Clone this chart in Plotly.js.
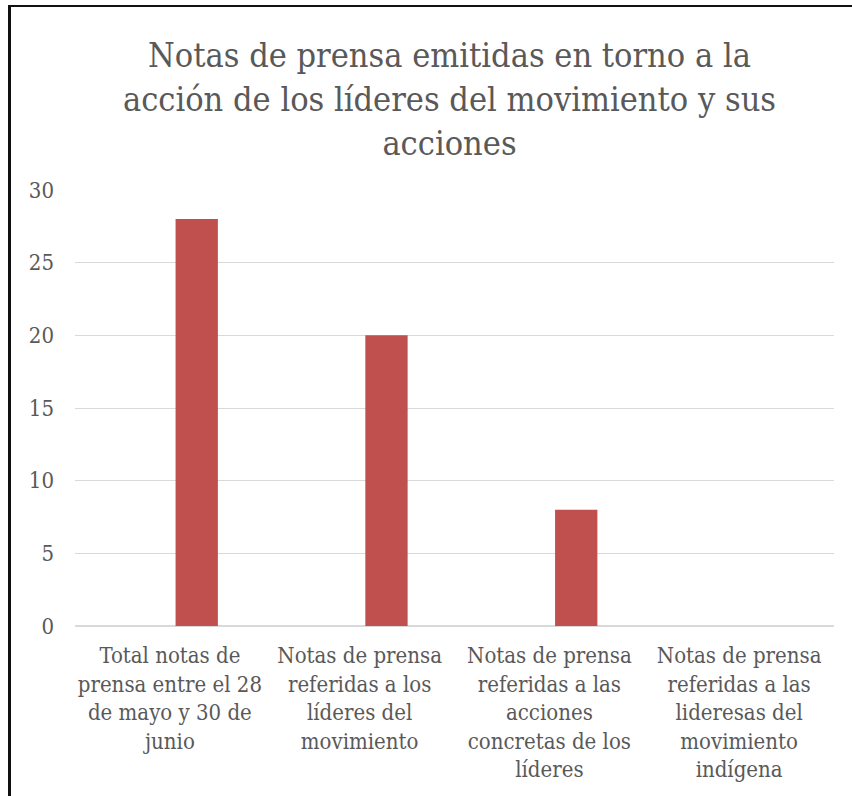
<!DOCTYPE html>
<html>
<head>
<meta charset="utf-8">
<script src="https://cdn.plot.ly/plotly-3.0.1.min.js"></script>
<style>
  html, body { margin: 0; padding: 0; background: #fff; }
  #wrap { position: relative; width: 852px; height: 796px; overflow: hidden; }
  #chart { position: absolute; left: 0; top: 0; width: 852px; height: 796px; }
  #frame { position: absolute; left: 8px; top: 5px; width: 860px; height: 800px;
           border-left: 3px solid #111; border-top: 2px solid #111; pointer-events: none; }
</style>
</head>
<body>
<div id="wrap">
  <div id="chart"></div>
  <div id="frame"></div>
</div>
<script>
const chartTitle = "Notas de prensa emitidas en torno a la<br>acción de los líderes del movimiento y sus<br>acciones";
const categories = [
  "Total notas de<br>prensa entre el 28<br>de mayo y 30 de<br>junio",
  "Notas de prensa<br>referidas a los<br>líderes del<br>movimiento",
  "Notas de prensa<br>referidas a las<br>acciones<br>concretas de los<br>líderes",
  "Notas de prensa<br>referidas a las<br>lideresas del<br>movimiento<br>indígena"
];
const values = [28, 20, 8, 0];
const yTicks = [0, 5, 10, 15, 20, 25, 30];

const FONT = "'DejaVu Serif Condensed', 'DejaVu Serif', serif";
const TXT = "#595959";

const trace = {
  type: "bar",
  x: categories,
  y: values,
  marker: { color: "#C0504D" },
  width: 0.223,
  offset: 0.03,
  hoverinfo: "none"
};

const layout = {
  width: 852,
  height: 796,
  margin: { l: 75, r: 18, t: 190, b: 170 },
  paper_bgcolor: "#ffffff",
  plot_bgcolor: "#ffffff",
  showlegend: false,
  font: { family: FONT, color: TXT, size: 22 },
  title: {
    text: chartTitle,
    font: { family: FONT, color: TXT, size: 34 },
    xref: "paper",
    x: 0.4934,
    xanchor: "center",
    yref: "container",
    y: 0.9158,
    yanchor: "top"
  },
  xaxis: {
    type: "category",
    showgrid: false,
    showline: false,
    zeroline: false,
    ticks: "",
    tickfont: { family: FONT, color: TXT, size: 22 },
    ticklabelstandoff: 14,
    fixedrange: true
  },
  yaxis: {
    range: [0, 30],
    tickvals: yTicks,
    ticktext: yTicks.map(String),
    showgrid: true,
    gridcolor: "#d9d9d9",
    gridwidth: 1,
    zeroline: true,
    zerolinecolor: "#d9d9d9",
    zerolinewidth: 1.5,
    showline: false,
    ticks: "",
    tickfont: { family: FONT, color: TXT, size: 22 },
    ticklabelstandoff: 20,
    fixedrange: true
  }
};

Plotly.newPlot("chart", [trace], layout, { displayModeBar: false, staticPlot: true });
</script>
</body>
</html>
